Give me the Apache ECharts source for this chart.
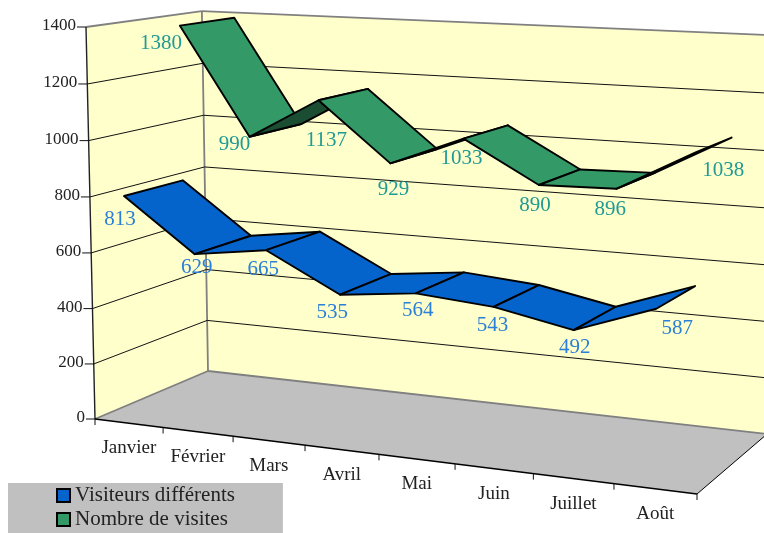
<!DOCTYPE html>
<html><head><meta charset="utf-8">
<style>html,body{margin:0;padding:0;background:#fff}#c{width:764px;height:533px}</style>
<script src="https://cdn.jsdelivr.net/npm/echarts@6/dist/echarts.min.js"></script>
</head><body><div id="c"></div>
<script>
const categories = ['Janvier','Février','Mars','Avril','Mai','Juin','Juillet','Août'];
const visiteurs = [813,629,665,535,564,543,492,587];
const visites = [1380,990,1137,929,1033,890,896,1038];
const yTicks = [0,200,400,600,800,1000,1200,1400];

// Label nudges, in pixels, from the front edge of each ribbon point
const shiftVisiteurs = [[-4,23],[2,13],[-3,19],[-8,18],[2,17],[-1,19],[1,17],[21,20]];
const shiftVisites = [[-19,18],[-15,8],[8,40],[3,26],[-2,20],[-4,20],[-6,21],[27,18]];

// Perspective camera: image of the chart box corners and their homogeneous weights
const O=[95,419], X=[697,494], Y=[208,371], Z=[86,27];
const wx=0.893, wy=1.09, wz=0.98;
function project(t,d,h){
  const px=O[0]+t*(wx*X[0]-O[0])+d*(wy*Y[0]-O[0])+h*(wz*Z[0]-O[0]);
  const py=O[1]+t*(wx*X[1]-O[1])+d*(wy*Y[1]-O[1])+h*(wz*Z[1]-O[1]);
  const w=1+t*(wx-1)+d*(wy-1)+h*(wz-1);
  return [px/w,py/w];
}
function unit(api,params,cat,val){
  const r=params.coordSys, c=api.coord([cat,val]);
  return [(c[0]-r.x)/r.width, 1-(c[1]-r.y)/r.height];
}
const FONT='"Liberation Serif","DejaVu Serif",serif';
function area(p){let s=0;for(let i=0;i<p.length;i++){const a=p[i],b=p[(i+1)%p.length];s+=a[0]*b[1]-b[0]*a[1];}return s;}

function ribbon(values,d0,d1,top,under,textColor,shifts){
  return function(params,api){
    const i=api.value(0), v=api.value(1), kids=[];
    const [t,h]=unit(api,params,i,v);
    if(i<values.length-1){
      const [t2,h2]=unit(api,params,i+1,values[i+1]);
      const q=[project(t,d0,h),project(t,d1,h),project(t2,d1,h2),project(t2,d0,h2)];
      kids.push({type:'polygon',shape:{points:q},style:{fill:area(q)>0?top:under,stroke:'#000',lineWidth:1.9,lineJoin:'round'}});
    }
    const f=project(t,d0,h), s=shifts[i];
    kids.push({type:'text',z2:20,style:{text:String(v),x:f[0]+s[0],y:f[1]+s[1],align:'center',verticalAlign:'middle',font:'21px '+FONT,fill:textColor}});
    return {type:'group',children:kids};
  };
}
function seg(a,b,stroke,lw){return {type:'line',shape:{x1:a[0],y1:a[1],x2:b[0],y2:b[1]},style:{stroke:stroke,lineWidth:lw}};}

const chart=echarts.init(document.getElementById('c'),null,{renderer:'canvas'});
chart.setOption({
  animation:false,
  backgroundColor:'#fff',
  grid:{left:100,right:100,top:50,bottom:50,show:false},
  xAxis:{type:'category',data:categories,show:false},
  yAxis:{type:'value',min:0,max:1400,interval:200,show:false},
  legend:{
    data:[{name:'Visiteurs différents',icon:'rect'},{name:'Nombre de visites',icon:'rect'}],
    orient:'vertical',left:8,top:483,backgroundColor:'#c0c0c0',
    padding:[2,48,3,48],itemWidth:13,itemHeight:13,itemGap:3,selectedMode:false,
    textStyle:{fontFamily:FONT,fontSize:21,color:'#222'}
  },
  series:[
    {type:'custom',name:'cadre',silent:true,clip:false,z:1,data:[0],encode:{x:0,y:0},
      renderItem:function(){
        const c=(t,d,h)=>project(t,d,h);
        const kids=[
          {type:'polygon',shape:{points:[c(0,0,0),c(0,1,0),c(0,1,1),c(0,0,1)]},style:{fill:'#ffffcc'}},
          {type:'polygon',shape:{points:[c(0,1,0),c(1,1,0),c(1,1,1),c(0,1,1)]},style:{fill:'#ffffcc'}},
          {type:'polygon',shape:{points:[c(0,0,0),c(1,0,0),c(1,1,0),c(0,1,0)]},style:{fill:'#c0c0c0'}},
          seg(c(0,0,1),c(0,1,1),'#808080',1.8),
          seg(c(0,1,1),c(1,1,1),'#808080',1.8),
          seg(c(0,1,0),c(0,1,1),'#808080',1.8),
          seg(c(0,0,0),c(0,1,0),'#808080',1.8),
          seg(c(0,1,0),c(1,1,0),'#808080',1.8),
          seg(c(0,0,0),c(0,0,1),'#222',1.4),
          seg(c(0,0,0),c(1,0,0),'#000',1.4),
          seg(c(1,0,0),c(1,1,0),'#000',1)
        ];
        return {type:'group',children:kids};
      }},
    {type:'custom',name:'graduations',silent:true,clip:false,z:2,
      data:yTicks.map(v=>[0,v]),encode:{x:0,y:1},
      renderItem:function(params,api){
        const v=api.value(1), h=unit(api,params,0,v)[1];
        const a=project(0,0,h), b=project(0,1,h), e=project(1,1,h), kids=[];
        if(v>0&&v<1400){kids.push(seg(a,b,'#111',1),seg(b,e,'#111',1));}
        kids.push(seg([a[0]-9,a[1]],a,'#111',1));
        kids.push({type:'text',style:{text:String(v),x:a[0]-10,y:a[1]-1,align:'right',verticalAlign:'middle',font:'17px '+FONT,fill:'#222'}});
        return {type:'group',children:kids};
      }},
    {type:'custom',name:'mois',silent:true,clip:false,z:2,
      data:categories.map((n,i)=>[i,0]),encode:{x:0,y:1},
      renderItem:function(params,api){
        const i=api.value(0), tc=unit(api,params,i,0)[0];
        const band=api.size([1,0])[0]/params.coordSys.width;
        const l=project(tc-band/2,0,0), m=project(tc,0,0), kids=[seg(l,[l[0],l[1]+6],'#111',1)];
        if(i===categories.length-1){const rr=project(tc+band/2,0,0);kids.push(seg(rr,[rr[0],rr[1]+6],'#111',1));}
        kids.push({type:'text',style:{text:categories[i],x:m[0],y:m[1]+25,align:'center',verticalAlign:'middle',font:'19px '+FONT,fill:'#222'}});
        return {type:'group',children:kids};
      }},
    {type:'custom',name:'Nombre de visites',silent:true,clip:false,z:3,
      itemStyle:{color:'#339966',borderColor:'#000',borderWidth:1.5},
      data:visites.map((v,i)=>[i,v]),encode:{x:0,y:1},
      renderItem:ribbon(visites,0.5,1,'#339966','#1b4d33','#1f9a94',shiftVisites)},
    {type:'custom',name:'Visiteurs différents',silent:true,clip:false,z:4,
      itemStyle:{color:'#0563cc',borderColor:'#000',borderWidth:1.5},
      data:visiteurs.map((v,i)=>[i,v]),encode:{x:0,y:1},
      renderItem:ribbon(visiteurs,0,0.5,'#0563cc','#0563cc','#2a7fd6',shiftVisiteurs)}
  ]
});
</script></body></html>
